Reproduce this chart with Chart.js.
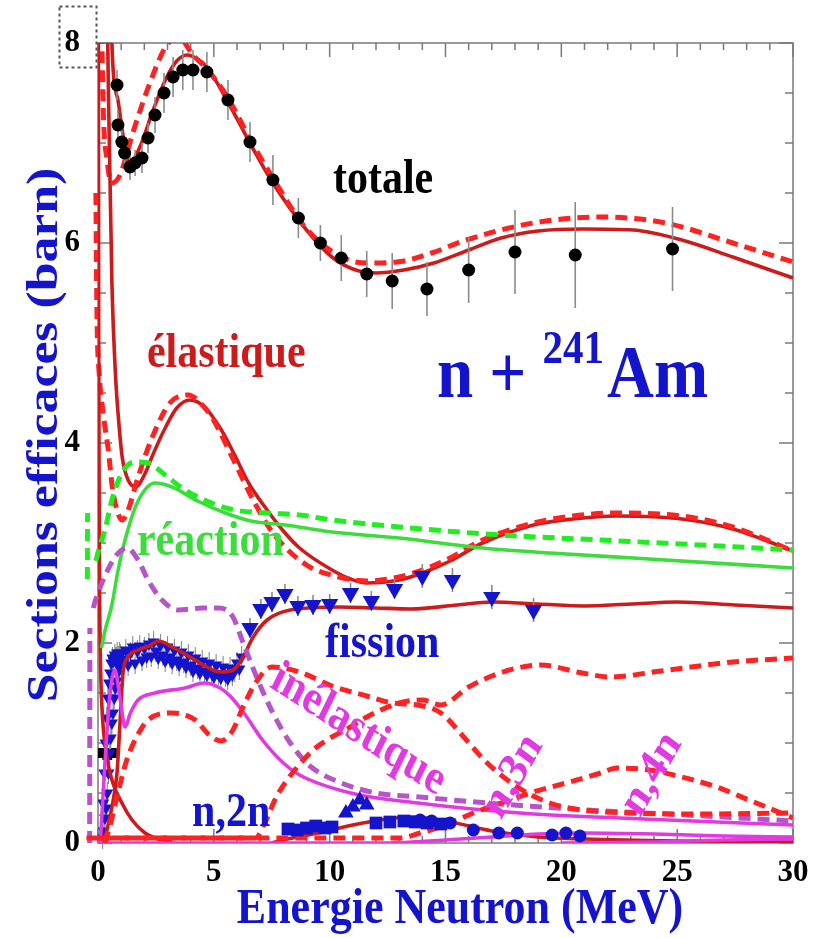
<!DOCTYPE html>
<html>
<head>
<meta charset="utf-8">
<script src="https://cdn.jsdelivr.net/npm/chart.js"></script>
<style>
  html, body { margin: 0; padding: 0; background: #fff; }
  #wrap { width: 830px; height: 938px; }
</style>
</head>
<body>
<div id="wrap"><canvas id="xs" width="830" height="938"></canvas></div>
<script>
// n + 241Am cross sections, energy in MeV, sigma in barn

// calculated curves, [E, sigma]
const totalCalc = [[0.35, 12], [0.6, 8.0], [0.86, 7.43], [1.1, 7.05], [1.38, 6.8], [1.81, 6.96], [2.38, 7.33], [2.97, 7.66], [3.4, 7.82], [3.84, 7.88], [4.3, 7.84], [4.7, 7.76], [5.56, 7.43], [6.7, 6.94], [7.55, 6.6], [9.0, 6.13], [10.1, 5.86], [11.0, 5.74], [12.0, 5.7], [13.2, 5.73], [14.5, 5.8], [16.0, 5.93], [17.4, 6.05], [19.0, 6.12], [20.9, 6.14], [23.1, 6.13], [25.2, 6.03], [27.4, 5.86], [30, 5.65]];
const totalAlt = [[0.02, 14], [0.17, 8.0], [0.39, 6.83], [0.6, 6.6], [0.95, 6.68], [1.5, 7.1], [2.24, 7.6], [2.97, 7.98], [3.5, 8.05], [4.1, 7.88], [4.7, 7.74], [5.56, 7.47], [6.7, 6.98], [7.55, 6.65], [9.0, 6.14], [10.6, 5.85], [11.6, 5.8], [12.9, 5.81], [14.4, 5.9], [15.9, 6.03], [18.8, 6.2], [21.7, 6.26], [24.5, 6.2], [27.4, 6.0], [30, 5.81]];

const elasticCalc = [[0.25, 11], [0.45, 7.5], [0.6, 5.6], [0.75, 4.7], [0.9, 4.2], [1.05, 3.85], [1.3, 3.63], [1.65, 3.56], [2.0, 3.68], [2.4, 3.9], [2.9, 4.15], [3.4, 4.35], [3.97, 4.43], [4.6, 4.36], [5.3, 4.14], [5.9, 3.88], [6.5, 3.6], [7.3, 3.33], [8.0, 3.12], [8.7, 2.95], [10.1, 2.73], [10.9, 2.64], [11.6, 2.6], [13.0, 2.63], [14.0, 2.7], [15.2, 2.82], [16.6, 3.0], [18.8, 3.18], [20.5, 3.24], [22.4, 3.27], [25.2, 3.24], [27.4, 3.14], [30, 2.92]];
const elasticAlt = [[-0.13, 12], [-0.09, 6.5], [0.05, 4.7], [0.25, 4.25], [0.45, 3.92], [0.62, 3.55], [0.82, 3.33], [1.03, 3.23], [1.3, 3.33], [1.73, 3.66], [2.33, 4.05], [3.1, 4.4], [3.9, 4.48], [4.5, 4.38], [4.96, 4.24], [5.83, 3.84], [6.7, 3.43], [7.55, 3.1], [9.0, 2.78], [10.4, 2.66], [11.6, 2.62], [13.0, 2.66], [14.0, 2.73], [15.2, 2.85], [16.6, 3.03], [18.8, 3.2], [20.5, 3.27], [22.4, 3.3], [25.2, 3.27], [27.4, 3.16], [30, 2.92]];

const reactionCalc = [[0.15, 1.95], [0.3, 2.12], [0.6, 2.38], [0.86, 2.72], [1.25, 3.1], [1.73, 3.42], [2.46, 3.6], [3.2, 3.56], [4.3, 3.42], [5.5, 3.3], [6.6, 3.22], [8.1, 3.18], [10.1, 3.11], [13.0, 3.05], [16.6, 2.95], [19.5, 2.9], [23.1, 2.85], [30, 2.75]];
const reactionEdge = [[-0.46, 2.64], [-0.45, 3.3]];
const reactionAlt = [[-0.45, 3.3], [-0.3, 2.78], [-0.1, 2.82], [0.05, 2.95], [0.3, 3.13], [0.6, 3.43], [1.03, 3.7], [1.6, 3.81], [2.16, 3.8], [2.9, 3.68], [3.75, 3.53], [4.9, 3.4], [5.9, 3.33], [7.3, 3.3], [8.7, 3.28], [10.1, 3.23], [13.0, 3.16], [17.4, 3.08], [21.7, 3.03], [26.0, 2.98], [30, 2.93]];

const inelasticCalc = [[0.1, 0.0], [0.3, 0.8], [0.5, 1.45], [0.73, 1.73], [0.95, 1.45], [1.17, 1.16], [1.4, 1.3], [1.73, 1.43], [2.46, 1.5], [3.75, 1.55], [4.6, 1.6], [5.27, 1.55], [5.7, 1.47], [6.3, 1.3], [7.1, 1.03], [8.0, 0.8], [8.7, 0.68], [10.9, 0.5], [13.8, 0.4], [18.2, 0.3], [22.5, 0.25], [30, 0.18]];
const inelasticEdge = [[-0.36, 0.0], [-0.35, 2.15]];
const inelasticAlt = [[-0.35, 2.15], [-0.2, 2.35], [0.0, 2.5], [0.4, 2.72], [0.8, 2.88], [1.25, 2.95], [1.73, 2.83], [2.16, 2.63], [2.76, 2.43], [3.45, 2.33], [4.5, 2.35], [5.2, 2.35], [5.8, 2.27], [6.3, 1.98], [6.9, 1.63], [7.55, 1.3], [8.3, 1.0], [9.15, 0.77], [10.4, 0.61], [12.0, 0.5], [13.9, 0.46], [16.8, 0.4], [21.1, 0.33], [25.4, 0.28], [30, 0.22]];

const captureCalc = [[0.0, 12], [0.03, 5], [0.06, 2.8], [0.1, 1.9], [0.17, 1.36], [0.39, 0.86], [0.6, 0.63], [1.03, 0.4], [1.47, 0.23], [2.03, 0.1], [2.6, 0.04], [3.2, 0.02]];
const fissionCalc = [[0.25, 0.0], [0.6, 0.36], [0.82, 0.7], [0.95, 1.2], [1.08, 1.7], [1.3, 1.86], [1.73, 1.93], [2.2, 1.97], [2.6, 2.02], [3.2, 1.96], [3.97, 1.86], [4.7, 1.76], [5.27, 1.71], [5.83, 1.73], [6.26, 1.86], [6.7, 2.06], [7.3, 2.23], [8.3, 2.33], [10.4, 2.36], [12.0, 2.35], [13.5, 2.34], [15.5, 2.38], [17.0, 2.41], [19.0, 2.39], [21.0, 2.37], [23.0, 2.39], [25.0, 2.41], [27.5, 2.38], [30, 2.35]];
const n2nCalc = [[7.5, 0.0], [8.0, 0.03], [9.5, 0.1], [11.0, 0.18], [12.5, 0.24], [13.5, 0.26], [15.0, 0.22], [17.0, 0.12], [19.0, 0.06], [21.0, 0.04], [25.0, 0.02], [30, 0.01]];
const n3nCalc = [[0, 0.0], [12.5, 0.0], [15.0, 0.03], [17.0, 0.06], [19.0, 0.09], [21.0, 0.1], [24.0, 0.09], [27.0, 0.07], [30, 0.06]];
const n4nCalc = [[20, 0.0], [24.0, 0.01], [27.0, 0.03], [30, 0.04]];

// second set of dashed partial channels
const partialA = [[0.3, 0.0], [0.55, 0.2], [0.86, 0.5], [1.2, 0.8], [1.6, 1.03], [2.16, 1.23], [3.2, 1.3], [4.2, 1.23], [4.8, 1.08], [5.3, 1.02], [5.8, 1.12], [6.3, 1.38], [6.8, 1.6], [7.5, 1.76], [8.7, 1.71], [10.1, 1.57], [11.6, 1.47], [12.7, 1.4], [13.8, 1.38], [14.8, 1.3], [15.9, 1.03], [16.8, 0.8], [18.1, 0.56], [19.5, 0.4], [20.9, 0.33], [23.0, 0.3], [26.0, 0.29], [30, 0.3]];
const partialB = [[0.0, 0.05], [6.8, 0.05], [7.2, 0.2], [7.7, 0.46], [8.6, 0.76], [9.45, 0.96], [10.1, 1.06], [10.9, 1.16], [11.6, 1.26], [13.0, 1.4], [14.0, 1.43], [14.8, 1.38], [16.0, 1.56], [17.0, 1.67], [18.1, 1.75], [19.1, 1.78], [20.9, 1.7], [22.1, 1.66], [24.3, 1.72], [27.4, 1.81], [30, 1.85]];
const partialC = [[-0.5, 0.05], [13.0, 0.05], [13.9, 0.1], [14.9, 0.17], [16.2, 0.3], [17.4, 0.4], [18.8, 0.51], [20.2, 0.6], [21.7, 0.7], [22.4, 0.75], [23.8, 0.73], [25.2, 0.66], [26.7, 0.56], [28.1, 0.43], [30, 0.25]];

// measurements, [E, sigma, error]
const totalData = [[0.82, 7.58, 0.15], [0.86, 7.18, 0.15], [1.03, 7.01, 0.15], [1.15, 6.9, 0.15], [1.38, 6.76, 0.13], [1.6, 6.8, 0.13], [1.9, 6.85, 0.15], [2.16, 7.05, 0.15], [2.46, 7.28, 0.18], [2.85, 7.5, 0.2], [3.24, 7.66, 0.2], [3.66, 7.73, 0.2], [4.1, 7.73, 0.2], [4.7, 7.71, 0.2], [5.61, 7.43, 0.2], [6.56, 7.01, 0.2], [7.55, 6.63, 0.25], [8.65, 6.25, 0.2], [9.6, 6.0, 0.18], [10.5, 5.85, 0.23], [11.6, 5.69, 0.23], [12.7, 5.62, 0.28], [14.2, 5.54, 0.27], [16.0, 5.73, 0.33], [18.0, 5.91, 0.42], [20.6, 5.88, 0.53], [24.8, 5.94, 0.42]];
const fissionData = [[6.56, 2.15, 0.1], [7.03, 2.34, 0.1], [7.51, 2.41, 0.1], [8.07, 2.49, 0.1], [8.63, 2.37, 0.1], [9.28, 2.38, 0.1], [10.0, 2.39, 0.1], [10.9, 2.5, 0.1], [11.8, 2.42, 0.1], [12.8, 2.54, 0.1], [14.0, 2.67, 0.12], [15.3, 2.63, 0.12], [17.0, 2.46, 0.12], [18.8, 2.33, 0.12]];
const fissionDense = [[0.2, 0.05], [0.225, 0.4], [0.25, 0.12], [0.275, 0.7], [0.3, 0.25], [0.325, 1.0], [0.35, 0.35], [0.375, 1.25], [0.4, 0.5], [0.425, 1.45], [0.45, 0.7], [0.475, 1.6], [0.5, 0.9], [0.525, 1.7], [0.55, 1.05], [0.575, 1.8], [0.6, 1.2], [0.625, 1.85], [0.65, 1.3], [0.675, 1.82], [0.7, 1.45], [0.725, 1.88], [0.75, 1.55], [0.775, 1.85], [0.8, 1.62], [0.825, 1.9], [0.85, 1.7], [0.875, 1.86], [0.9, 1.76], [0.925, 1.9], [0.95, 1.8], [0.975, 1.88], [1.0, 1.84],
  [1.1, 1.8], [1.2, 1.93], [1.3, 1.78], [1.4, 1.9], [1.5, 1.96], [1.6, 1.8], [1.7, 1.92], [1.8, 1.97], [1.9, 1.83], [2.0, 1.95], [2.1, 1.86], [2.2, 1.99], [2.3, 1.87], [2.4, 2.01], [2.5, 1.92], [2.6, 1.85], [2.7, 1.98], [2.8, 1.88], [2.9, 1.82], [3.0, 1.96], [3.1, 1.86], [3.2, 1.8], [3.3, 1.93], [3.4, 1.83], [3.5, 1.78], [3.6, 1.91], [3.7, 1.81], [3.8, 1.76], [3.9, 1.88], [4.0, 1.78], [4.1, 1.72], [4.2, 1.85], [4.3, 1.75], [4.4, 1.7], [4.5, 1.82], [4.6, 1.72], [4.7, 1.68], [4.8, 1.8], [4.9, 1.7], [5.0, 1.66], [5.1, 1.78], [5.2, 1.69], [5.3, 1.65], [5.4, 1.76], [5.5, 1.67], [5.6, 1.64], [5.7, 1.75], [5.8, 1.68], [5.9, 1.72], [6.0, 1.8], [6.1, 1.74], [6.2, 1.86]];
const otherData = [[0.2, 0.9], [0.4, 0.88], [0.6, 0.9]];
const n2nSquares = [[8.2, 0.14], [8.6, 0.13], [9.0, 0.15], [9.4, 0.17], [9.8, 0.15], [10.1, 0.16], [12.0, 0.2], [12.6, 0.21], [13.2, 0.22], [13.7, 0.21], [14.2, 0.2], [14.8, 0.19]];
const n2nTriangles = [[10.7, 0.3], [11.0, 0.36], [11.3, 0.43], [11.6, 0.38]];
const n2nCircles = [[13.9, 0.23], [14.4, 0.22], [15.2, 0.2], [16.2, 0.13], [17.3, 0.1], [18.1, 0.1], [19.6, 0.08], [20.2, 0.1], [20.8, 0.07]];

// axis ranges and labels
const eTicks = [0, 5, 10, 15, 20, 25, 30];
const sigmaTicks = [0, 2, 4, 6, 8];

const STRETCH = 1.15;
const SERIF = "'Liberation Serif', 'Times New Roman', serif";
const DARK_RED = '#cc1b1b', RED = '#ff2222', GREEN = '#3ddc3d', GREEN_D = '#22ec22';
const PURPLE = '#b655c9', MAGENTA = '#e03ae0', BLUE = '#1414cc';

const pts = a => a.map(p => ({ x: p[0], y: p[1] }));
const sideClip = { left: 14, top: 0, right: 0, bottom: 0 };
const straight = { cubicInterpolationMode: 'default', tension: 0, clip: sideClip };

function curve(data, color, dashed, extra) {
  return Object.assign({
    data: pts(data),
    showLine: true,
    borderColor: color,
    borderWidth: dashed ? 5 : 3.6,
    borderDash: dashed ? [12, 7] : [],
    pointRadius: 0,
    cubicInterpolationMode: 'monotone',
    order: 2
  }, extra || {});
}

function marks(data, color, style, radius, extra) {
  return Object.assign({
    data: pts(data),
    showLine: false,
    pointStyle: style,
    pointRadius: radius,
    backgroundColor: color,
    borderColor: color,
    borderWidth: 0,
    order: 1
  }, extra || {});
}

// inward ticks and the plot frame
const frame = {
  id: 'frame',
  beforeDatasetsDraw(chart) {
    const { ctx, chartArea: a, scales: { x, y } } = chart;
    ctx.save();
    ctx.strokeStyle = '#7a7a7a';
    ctx.lineWidth = 1.5;
    ctx.strokeRect(a.left, a.top, a.right - a.left, a.bottom - a.top);
    ctx.beginPath();
    for (let e = 0; e <= 30; e++) {
      const px = x.getPixelForValue(e);
      const len = e % 5 === 0 ? 14 : 7;
      ctx.moveTo(px, a.bottom); ctx.lineTo(px, a.bottom - len);
      ctx.moveTo(px, a.top); ctx.lineTo(px, a.top + len);
    }
    for (let k = 0; k <= 16; k++) {
      const py = y.getPixelForValue(k / 2);
      const len = k % 4 === 0 ? 14 : 8;
      ctx.moveTo(a.left, py); ctx.lineTo(a.left + len, py);
      ctx.moveTo(a.right, py); ctx.lineTo(a.right - len, py);
    }
    ctx.stroke();
    ctx.restore();
  }
};

// vertical error bars under a dataset's markers
const errorBars = {
  id: 'errorBars',
  beforeDatasetDraw(chart, args) {
    const ds = chart.data.datasets[args.index];
    if (!ds.errs) return;
    const { ctx, scales: { x, y } } = chart;
    ctx.save();
    ctx.strokeStyle = ds.errColor || '#8c8c8c';
    ctx.lineWidth = ds.errWidth || 1.6;
    ctx.beginPath();
    ds.data.forEach((p, i) => {
      const px = x.getPixelForValue(p.x);
      ctx.moveTo(px, y.getPixelForValue(p.y - ds.errs[i]));
      ctx.lineTo(px, y.getPixelForValue(p.y + ds.errs[i]));
    });
    ctx.stroke();
    ctx.restore();
  }
};

function tallText(ctx, str, px, py, size, color, align, rot) {
  ctx.save();
  ctx.translate(px, py);
  ctx.scale(1, STRETCH);
  if (rot) ctx.rotate(rot * Math.PI / 180);
  ctx.font = 'bold ' + size + 'px ' + SERIF;
  ctx.fillStyle = color;
  ctx.textAlign = align || 'left';
  ctx.textBaseline = 'alphabetic';
  ctx.fillText(str, 0, 0);
  ctx.restore();
}

// channel names, placed in data units
const channelLabels = [
  { text: 'totale', e: 10.14, s: 6.5, color: '#000' },
  { text: 'élastique', e: 2.11, s: 4.76, color: DARK_RED },
  { text: 'réaction', e: 1.68, s: 2.88, color: GREEN },
  { text: 'fission', e: 9.8, s: 1.86, color: BLUE },
  { text: 'n,2n', e: 4.06, s: 0.17, color: BLUE },
  { text: 'inélastique', e: 11.0, s: 1.02, color: MAGENTA, rot: 29.5, align: 'center' },
  { text: 'n,3n', e: 18.3, s: 0.6, color: MAGENTA, rot: -57, align: 'center' },
  { text: 'n,4n', e: 24.3, s: 0.62, color: MAGENTA, rot: -57, align: 'center' }
];

const annotations = {
  id: 'annotations',
  afterDraw(chart) {
    const { ctx, scales: { x, y } } = chart;
    channelLabels.forEach(l => {
      tallText(ctx, l.text, x.getPixelForValue(l.e), y.getPixelForValue(l.s), 42, l.color, l.align, l.rot);
    });

    // reaction title: n + 241Am
    const tx = x.getPixelForValue(14.63), ty = y.getPixelForValue(4.46);
    ctx.save();
    ctx.font = 'bold 65px ' + SERIF;
    const w1 = ctx.measureText('n + ').width;
    ctx.font = 'bold 41px ' + SERIF;
    const w2 = ctx.measureText('241').width;
    ctx.restore();
    tallText(ctx, 'n + ', tx, ty, 65, BLUE);
    tallText(ctx, '241', tx + w1, ty - 34, 41, BLUE);
    tallText(ctx, 'Am', tx + w1 + w2 + 3, ty, 65, BLUE);

    // axis titles
    const a = chart.chartArea;
    tallText(ctx, 'Energie Neutron (MeV)', 460, 923, 44, BLUE, 'center');
    ctx.save();
    ctx.translate(57, 435);
    ctx.scale(1, STRETCH);
    ctx.rotate(-Math.PI / 2);
    ctx.font = 'bold 45px ' + SERIF;
    ctx.fillStyle = BLUE;
    ctx.textAlign = 'center';
    ctx.fillText('Sections efficaces (barn)', 0, 0);
    ctx.restore();

    // dotted box round the top tick label
    ctx.save();
    ctx.strokeStyle = '#555';
    ctx.lineWidth = 2;
    ctx.setLineDash([3, 3]);
    ctx.strokeRect(59.5, 6.5, a.left - 61, a.top + 18);
    ctx.restore();
  }
};

const tickFont = { family: SERIF, weight: 'bold', size: 31 };

new Chart(document.getElementById('xs'), {
  type: 'scatter',
  data: {
    datasets: [
      curve(partialC, RED, true, { clip: sideClip }),
      curve(partialB, RED, true),
      curve(partialA, RED, true),
      curve(n4nCalc, MAGENTA, false),
      curve(n3nCalc, MAGENTA, false),
      curve(inelasticEdge, PURPLE, true, straight),
      curve(inelasticAlt, PURPLE, true, { clip: sideClip }),
      curve(inelasticCalc, MAGENTA, false),
      curve(reactionEdge, GREEN_D, true, straight),
      curve(reactionAlt, GREEN_D, true, { clip: sideClip }),
      curve(reactionCalc, GREEN, false),
      curve(captureCalc, DARK_RED, false),
      curve(n2nCalc, DARK_RED, false),
      curve(fissionCalc, DARK_RED, false),
      curve(elasticAlt, RED, true, { clip: sideClip }),
      curve(elasticCalc, DARK_RED, false),
      curve(totalAlt, RED, true),
      curve(totalCalc, DARK_RED, false),
      marks(fissionDense, BLUE, 'triangle', 7, { rotation: 180, errs: fissionDense.map(() => 0.11), errWidth: 1.1, order: 3 }),
      marks(fissionData, BLUE, 'triangle', 10, { rotation: 180, errs: fissionData.map(p => p[2]) }),
      marks(otherData, '#000', 'rect', 7, { order: 3 }),
      marks(n2nSquares, BLUE, 'rect', 9),
      marks(n2nTriangles, BLUE, 'triangle', 9),
      marks(n2nCircles, BLUE, 'circle', 6.5),
      marks(totalData, '#000', 'circle', 6.5, { errs: totalData.map(p => p[2]) })
    ]
  },
  options: {
    responsive: false,
    animation: false,
    layout: { padding: { top: 43, right: 37, left: 0, bottom: 0 } },
    plugins: { legend: { display: false }, tooltip: { enabled: false } },
    scales: {
      x: {
        type: 'linear', min: 0, max: 30,
        grid: { display: false }, border: { display: false },
        afterBuildTicks: s => { s.ticks = eTicks.map(v => ({ value: v })); },
        ticks: { font: tickFont, color: '#000', padding: 3, maxRotation: 0 },
        afterFit: s => { s.height = 95; }
      },
      y: {
        type: 'linear', min: 0, max: 8,
        grid: { display: false }, border: { display: false },
        afterBuildTicks: s => { s.ticks = sigmaTicks.map(v => ({ value: v })); },
        ticks: { font: tickFont, color: '#000', padding: 10 },
        afterFit: s => { s.width = 98; }
      }
    }
  },
  plugins: [frame, errorBars, annotations]
});
</script>
</body>
</html>
